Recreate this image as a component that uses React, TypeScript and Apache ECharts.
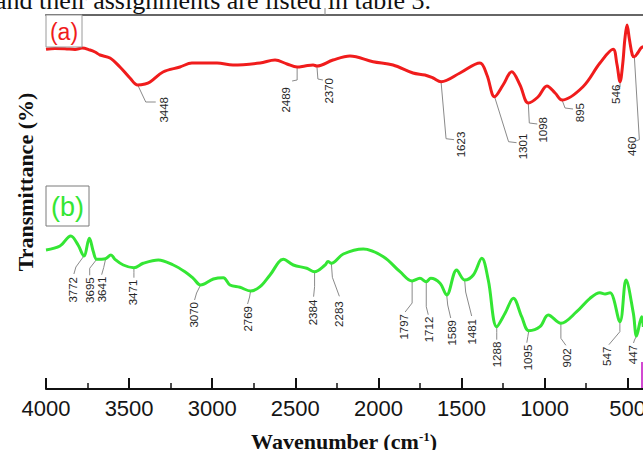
import React, { useEffect, useRef } from "react";
import * as echarts from "echarts";

// FTIR spectrum (a): wavenumber (cm-1) and offset transmittance (arbitrary units)
const redWn = [4000, 3946, 3886, 3825, 3783, 3735, 3705, 3675, 3615, 3555, 3495, 3448, 3404, 3374, 3296, 3194, 3122, 2971, 2875, 2712, 2622, 2550, 2489, 2442, 2393, 2370, 2273, 2171, 2032, 1912, 1792, 1720, 1671, 1623, 1509, 1389, 1347, 1301, 1250, 1198, 1148, 1098, 1040, 986, 937, 895, 769, 667, 588, 565, 546, 530, 517, 504, 490, 472, 460, 440, 420, 406];
const redT = [339.7, 340.5, 340.3, 339.5, 341, 339, 337, 334, 331, 322, 311, 304, 305, 307, 317, 322, 326, 326, 324, 326, 329, 325, 322, 323, 324, 323, 329, 333, 327.3, 324, 316, 314, 311, 307.3, 316, 326, 314, 292.3, 304, 317.3, 304, 286, 292, 303, 296, 289, 302.3, 326, 339.7, 325, 307.3, 325, 350, 364, 350, 334, 332.3, 336, 341, 342.3];

// FTIR spectrum (b)
const greenWn = [4000, 3916, 3851, 3807, 3772, 3739, 3715, 3695, 3665, 3641, 3609, 3585, 3535, 3471, 3415, 3324, 3234, 3164, 3114, 3070, 2993, 2933, 2893, 2833, 2769, 2712, 2652, 2572, 2512, 2431, 2384, 2321, 2303, 2283, 2211, 2091, 1970, 1870, 1797, 1750, 1712, 1685, 1629, 1589, 1529, 1481, 1429, 1378, 1339, 1288, 1238, 1188, 1138, 1095, 1028, 978, 902, 807, 727, 667, 636, 606, 547, 510, 466, 447, 416, 406];
const greenT = [139, 143, 153, 144, 133, 150.7, 137.3, 129.7, 129.7, 130.3, 134, 129.7, 124, 121.3, 125.7, 129, 124, 117.3, 110.7, 104, 110, 111.3, 104, 101.7, 98, 102.3, 114, 129.7, 124, 120.7, 117.3, 124, 127.5, 125.7, 135, 140, 132.3, 117.3, 108, 110.7, 107.3, 110.7, 105.7, 94, 119, 109, 114, 130.7, 109, 62.3, 75.7, 90.7, 72.3, 58.3, 62.3, 74, 65.7, 77.3, 90.7, 96.3, 95, 96.3, 67.3, 109, 75.7, 53, 72.3, 62];

// Annotated band positions (cm-1)
const redPeaks = [3448, 2489, 2370, 1623, 1301, 1098, 895, 546, 460];
const greenPeaks = [3772, 3695, 3641, 3471, 3070, 2769, 2384, 2283, 1797, 1712, 1589, 1481, 1288, 1095, 902, 547, 447];

// Leader layout in px relative to the band point: bend dx/dy, end dx/dy, text-top dx/dy
const redLeaders = [
  [8, 17, 18, 17, 26, 12],
  [0, 13, -5, 14, -11, 20],
  [1, 13, 6, 14, 12, 12],
  [5, 57, 13, 58, 20, 50],
  [14, 45, 22, 46, 28, 37],
  [1, 20, 9, 21, 15, 14],
  [3, 8, 11, 9, 18, 3],
  [0, 5, -3, 6, -4, 3],
  [5, 83, 2, 84, -2, 80],
];
const greenLeaders = [
  [-8, 11, -10, 18, -11, 21],
  [-7, 9, -7, 16, -7, 18],
  [-2, 9, -4, 16, -4, 18],
  [0, 5, 0, 10, -1, 12],
  [-4, 8, -6, 15, -7, 17],
  [-1, 6, -3, 13, -3, 15],
  [0, 15, -1, 25, -2, 28],
  [1, 14, 8, 33, 8, 38],
  [0, 22, -7, 31, -8, 33],
  [0, 25, 2, 33, 3, 35],
  [1, 10, 4, 23, 5, 25],
  [1, 12, 7, 36, 7, 39],
  [0, 6, 0, 13, 0, 15],
  [-1, 6, -2, 12, -1, 14],
  [0, 15, 5, 22, 6, 25],
  [0, 10, -11, 23, -13, 25],
  [-2, 4, -3, 7, -4, 9],
];

const RED = "#f01c1c";
const GREEN = "#34e634";
const SANS = '"Liberation Sans", Arial, sans-serif';
const SERIF = '"Liberation Serif", "Times New Roman", serif';

function pairs(xs: number[], ys: number[]) {
  return xs.map((x, i) => [x, ys[i]]);
}

function bandLabels(peaks: number[], wns: number[], ts: number[], leaders: number[][]) {
  return {
    type: "custom",
    coordinateSystem: "cartesian2d",
    silent: true,
    clip: false,
    z: 1,
    encode: { x: 0, y: 1 },
    data: peaks.map((w) => [w, ts[wns.indexOf(w)]]),
    renderItem: (params: any, api: any) => {
      const [px, py] = api.coord([api.value(0), api.value(1)]);
      const [bdx, bdy, edx, edy, tdx, tdy] = leaders[params.dataIndex];
      return {
        type: "group",
        children: [
          {
            type: "polyline",
            shape: { points: [[px, py], [px + bdx, py + bdy], [px + edx, py + edy]] },
            style: { stroke: "#8a8a8a", lineWidth: 1, fill: null },
          },
          {
            type: "text",
            x: px + tdx,
            y: py + tdy,
            rotation: Math.PI / 2,
            style: {
              text: String(api.value(0)),
              align: "right",
              textAlign: "right",
              verticalAlign: "middle",
              textVerticalAlign: "middle",
              font: `11.5px ${SANS}`,
              fill: "#262626",
            },
          },
        ],
      };
    },
  };
}

export default function App() {
  const ref = useRef<HTMLDivElement>(null);

  useEffect(() => {
    if (!ref.current) return;
    const chart = echarts.init(ref.current, null, { renderer: "svg" });
    const W = 720;
    const axisEnd = 710.8; // pixel position of 0 cm-1
    chart.setOption({
      animation: false,
      backgroundColor: "#fff",
      textStyle: { fontFamily: SANS },
      grid: { left: 46, top: 15, right: W - axisEnd, bottom: 61 },
      xAxis: [
        {
          type: "value",
          min: 0,
          max: 4000,
          interval: 500,
          inverse: true,
          position: "bottom",
          axisLine: { lineStyle: { color: "#111", width: 2 } },
          axisTick: { inside: true, length: 11, lineStyle: { color: "#111", width: 2 } },
          minorTick: { show: true, splitNumber: 2, length: 6, lineStyle: { color: "#111", width: 1.5 } },
          axisLabel: {
            fontSize: 22,
            color: "#151515",
            margin: 8,
            fontFamily: SANS,
            formatter: (v: number) => (v === 0 ? "" : String(v)),
          },
          splitLine: { show: false },
        },
        {
          type: "value",
          min: 0,
          max: 4000,
          inverse: true,
          position: "top",
          axisLine: { lineStyle: { color: "#666", width: 2 } },
          axisTick: { show: false },
          axisLabel: { show: false },
          splitLine: { show: false },
        },
      ],
      yAxis: {
        type: "value",
        min: 0,
        max: 374,
        axisLine: { show: true, lineStyle: { color: "#a0a0a0", width: 1 } },
        axisTick: { show: false },
        axisLabel: { show: false },
        splitLine: { show: false },
      },
      series: [
        bandLabels(redPeaks, redWn, redT, redLeaders),
        bandLabels(greenPeaks, greenWn, greenT, greenLeaders),
        {
          type: "line",
          data: pairs(redWn, redT),
          smooth: 0.35,
          showSymbol: false,
          z: 3,
          lineStyle: { color: RED, width: 3 },
        },
        {
          type: "line",
          data: pairs(greenWn, greenT),
          smooth: 0.35,
          showSymbol: false,
          z: 3,
          lineStyle: { color: GREEN, width: 3 },
        },
      ],
      graphic: [
        {
          type: "text",
          x: -5,
          y: 13,
          z: 100,
          style: {
            text: "and their assignments are listed in table 3.",
            font: `26px ${SERIF}`,
            fill: "#111",
            align: "left",
            textAlign: "left",
            verticalAlign: "bottom",
            textVerticalAlign: "bottom",
          },
        },
        {
          type: "line",
          z: 100,
          shape: { x1: 325, y1: 8, x2: 325, y2: 15 },
          style: { stroke: "#888", lineWidth: 1 },
        },
        {
          type: "line",
          z: 100,
          shape: { x1: 642, y1: 362, x2: 642, y2: 388 },
          style: { stroke: "#d24ad2", lineWidth: 2 },
        },
        {
          type: "rect",
          z: 100,
          shape: { x: 46, y: 15, width: 36, height: 32 },
          style: { fill: "#fff", stroke: "#9a9a9a", lineWidth: 1 },
        },
        {
          type: "text",
          z: 101,
          x: 64,
          y: 32,
          style: {
            text: "(a)",
            font: `23px ${SANS}`,
            fill: RED,
            align: "center",
            textAlign: "center",
            verticalAlign: "middle",
            textVerticalAlign: "middle",
          },
        },
        {
          type: "rect",
          z: 100,
          shape: { x: 46, y: 186, width: 43, height: 40 },
          style: { fill: "#fff", stroke: "#7a7a7a", lineWidth: 1 },
        },
        {
          type: "text",
          z: 101,
          x: 67.5,
          y: 207,
          style: {
            text: "(b)",
            font: `27px ${SANS}`,
            fill: GREEN,
            align: "center",
            textAlign: "center",
            verticalAlign: "middle",
            textVerticalAlign: "middle",
          },
        },
        {
          type: "text",
          z: 100,
          x: 25,
          y: 182,
          rotation: Math.PI / 2,
          style: {
            text: "Transmittance (%)",
            font: `bold 22px ${SERIF}`,
            fill: "#111",
            align: "center",
            textAlign: "center",
            verticalAlign: "middle",
            textVerticalAlign: "middle",
          },
        },
        {
          type: "text",
          z: 100,
          x: 344,
          y: 441,
          style: {
            text: "{m|Wavenumber (cm}{s|-1}{m|)}",
            align: "center",
            textAlign: "center",
            verticalAlign: "middle",
            textVerticalAlign: "middle",
            fill: "#111",
            rich: {
              m: { fontFamily: SERIF, fontWeight: "bold", fontSize: 22, fill: "#111", color: "#111" },
              s: { fontFamily: SERIF, fontWeight: "bold", fontSize: 13, fill: "#111", color: "#111", verticalAlign: "top" },
            },
          },
        },
      ],
    });
    return () => chart.dispose();
  }, []);

  return (
    <div
      style={{
        position: "fixed",
        left: 0,
        top: 0,
        width: 643,
        height: 450,
        overflow: "hidden",
        background: "#fff",
      }}
    >
      <div ref={ref} style={{ width: 720, height: 450 }} />
    </div>
  );
}
